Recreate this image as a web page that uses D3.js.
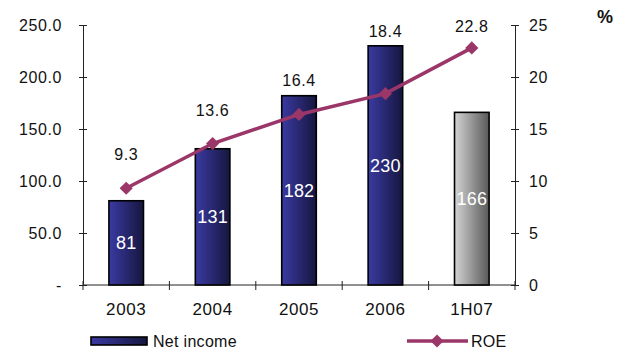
<!DOCTYPE html>
<html>
<head>
<meta charset="utf-8">
<script src="https://cdn.jsdelivr.net/npm/d3@7"></script>
<style>
  html, body { margin: 0; padding: 0; background: #fff; }
  svg { display: block; font-family: "Liberation Sans", Arial, sans-serif; }
</style>
</head>
<body>
<svg id="chart" width="630" height="352"></svg>
<script>
// Net income (bars, left axis) and ROE % (line, right axis)
const categories = ["2003", "2004", "2005", "2006", "1H07"];
const netIncome = [81, 131, 182, 230, 166];
const roe = [9.3, 13.6, 16.4, 18.4, 22.8];
const leftTicks = [0, 50, 100, 150, 200, 250];
const rightTicks = [0, 5, 10, 15, 20, 25];

const svg = d3.select("#chart");
const plot = { left: 83, right: 515, top: 25, bottom: 285 };

const x = d3.scaleBand().domain(categories).range([plot.left, plot.right]).paddingInner(0.6).paddingOuter(0.3);
const yL = d3.scaleLinear().domain([0, 250]).range([plot.bottom, plot.top]);
const yR = d3.scaleLinear().domain([0, 25]).range([plot.bottom, plot.top]);

// gradients for the bars
const defs = svg.append("defs");
function grad(id, c1, c2) {
  const g = defs.append("linearGradient").attr("id", id).attr("x1", "0%").attr("x2", "100%");
  g.append("stop").attr("offset", "0%").attr("stop-color", c1);
  g.append("stop").attr("offset", "100%").attr("stop-color", c2);
}
grad("blueGrad", "#3a3aa2", "#16163f");
grad("grayGrad", "#d4d4d4", "#585858");

const axisColor = "#222";
const fontSize = "16px";

// left axis
const leftAxis = d3.axisLeft(yL).tickValues(leftTicks)
  .tickFormat(d => d === 0 ? "-" : d3.format(".1f")(d))
  .tickSizeInner(4).tickSizeOuter(0).tickPadding(17);
const gL = svg.append("g").attr("transform", `translate(${plot.left},0)`).call(leftAxis);
gL.selectAll(".tick line").attr("x2", -4).attr("x1", 4);

// right axis
const rightAxis = d3.axisRight(yR).tickValues(rightTicks)
  .tickSizeInner(4).tickSizeOuter(0).tickPadding(10);
const gR = svg.append("g").attr("transform", `translate(${plot.right},0)`).call(rightAxis);
gR.selectAll(".tick line").attr("x1", -4).attr("x2", 4);

// bottom axis with ticks on category boundaries
const bounds = d3.range(categories.length + 1).map(i => plot.left + i * x.step());
const gB = svg.append("g");
gB.append("line").attr("x1", plot.left).attr("x2", plot.right)
  .attr("y1", plot.bottom).attr("y2", plot.bottom);
gB.selectAll("line.tk").data(bounds).join("line").attr("class", "tk")
  .attr("x1", d => d).attr("x2", d => d)
  .attr("y1", plot.bottom - 4).attr("y2", plot.bottom + 5);
gB.selectAll("line").attr("stroke", axisColor).attr("stroke-width", 1);
gB.selectAll("text").data(categories).join("text")
  .attr("x", d => x(d) + x.bandwidth() / 2).attr("y", plot.bottom + 30)
  .attr("text-anchor", "middle").text(d => d);

[gL, gR].forEach(g => {
  g.select(".domain").attr("stroke", axisColor);
  g.selectAll(".tick line").attr("stroke", axisColor);
});
svg.selectAll("g text").attr("font-size", fontSize).attr("fill", "#111")
  .attr("font-family", "'Liberation Sans', Arial, sans-serif").attr("letter-spacing", "0.6px");
gB.selectAll("text").attr("font-size", "17px");

// % unit label
svg.append("text").attr("x", 597).attr("y", 23).attr("font-size", "18px")
  .attr("font-weight", "bold").attr("fill", "#111").text("%");

// bars
const bars = svg.append("g");
bars.selectAll("rect").data(netIncome).join("rect")
  .attr("x", (d, i) => x(categories[i]))
  .attr("y", d => yL(d))
  .attr("width", x.bandwidth())
  .attr("height", d => yL(0) - yL(d))
  .attr("fill", (d, i) => i === categories.length - 1 ? "url(#grayGrad)" : "url(#blueGrad)")
  .attr("stroke", "#000").attr("stroke-width", 1.6);

bars.selectAll("text").data(netIncome).join("text")
  .attr("x", (d, i) => x(categories[i]) + x.bandwidth() / 2)
  .attr("y", d => (yL(d) + yL(0)) / 2 + 6.5)
  .attr("text-anchor", "middle").attr("fill", "#fff")
  .attr("font-size", "18px").attr("letter-spacing", "0.2px")
  .text(d => d);

// ROE line
const cx = i => x(categories[i]) + x.bandwidth() / 2;
const line = d3.line().x((d, i) => cx(i)).y(d => yR(d));
svg.append("path").datum(roe).attr("d", line)
  .attr("fill", "none").attr("stroke", "#9b3668").attr("stroke-width", 3.5);

const diamond = d3.symbol().type(d3.symbolDiamond2).size(110);
svg.append("g").selectAll("path").data(roe).join("path")
  .attr("d", diamond)
  .attr("transform", (d, i) => `translate(${cx(i)},${yR(d)})`)
  .attr("fill", "#9b3668");

// ROE value labels: above the point, kept clear of the bar top and inside the plot
svg.append("g").selectAll("text").data(roe).join("text")
  .attr("x", (d, i) => cx(i))
  .attr("y", (d, i) => Math.max(plot.top + 7, Math.min(yR(d) - 28, yL(netIncome[i]) - 9)))
  .attr("text-anchor", "middle").attr("fill", "#111")
  .attr("font-size", fontSize).attr("letter-spacing", "0.6px")
  .text(d => d3.format(".1f")(d));

// legend
const lg = svg.append("g");
lg.append("rect").attr("x", 91).attr("y", 337).attr("width", 56).attr("height", 8)
  .attr("fill", "url(#blueGrad)").attr("stroke", "#000").attr("stroke-width", 1.6);
lg.append("text").attr("x", 153).attr("y", 347).attr("font-size", fontSize)
  .attr("fill", "#111").attr("letter-spacing", "0.3px").text("Net income");
lg.append("line").attr("x1", 407).attr("x2", 468).attr("y1", 341).attr("y2", 341)
  .attr("stroke", "#9b3668").attr("stroke-width", 3.5);
lg.append("path").attr("d", diamond).attr("transform", "translate(437,341)").attr("fill", "#9b3668");
lg.append("text").attr("x", 471).attr("y", 347).attr("font-size", fontSize)
  .attr("fill", "#111").attr("letter-spacing", "0.3px").text("ROE");
</script>
</body>
</html>
